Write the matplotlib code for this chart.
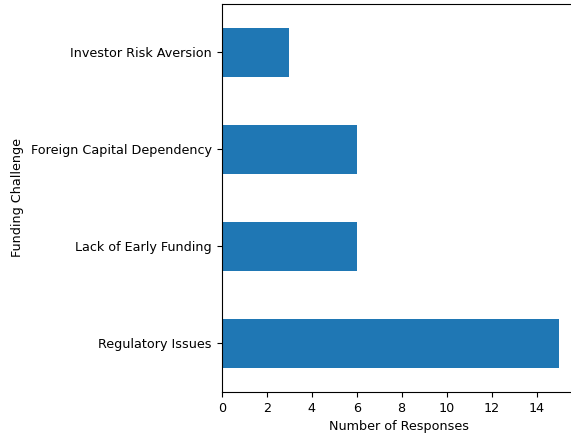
import matplotlib
matplotlib.use("Agg")
import matplotlib.pyplot as plt

# survey results: funding challenges
challenges = ["Regulatory Issues", "Lack of Early Funding",
              "Foreign Capital Dependency", "Investor Risk Aversion"]
responses = [15, 6, 6, 3]

plt.rcParams["font.size"] = 9.2

fig = plt.figure(figsize=(5.71, 4.34), dpi=100)
# the source image is a crop: right spine and title sit outside the frame
ax = fig.add_axes([0.3883, 0.0968, 0.6205, 0.894])

ax.barh(range(len(challenges)), responses, height=0.5, color="#1f77b4")
ax.set_yticks(range(len(challenges)))
ax.set_yticklabels(challenges)
ax.set_ylim(-0.5, len(challenges) - 0.5)
ax.set_xlim(0, max(responses) * 1.05)
ax.set_xticks(range(0, 15, 2))
ax.set_xlabel("Number of Responses")
ax.set_ylabel("Funding Challenge")
ax.yaxis.set_label_coords(-0.557, 0.5)

fig.savefig("out.png", dpi=100)
